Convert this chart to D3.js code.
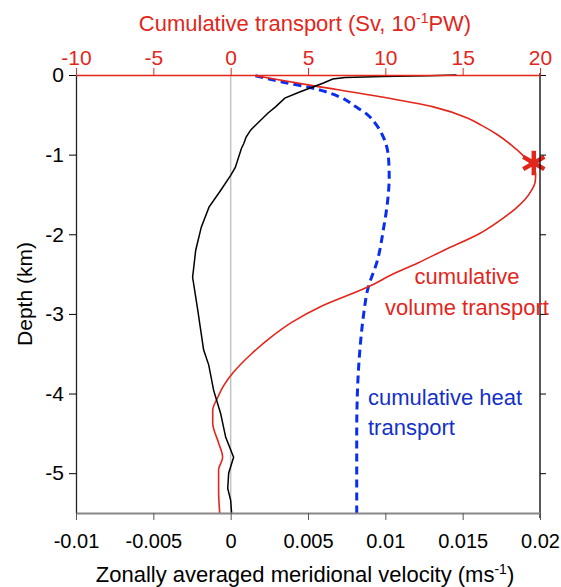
<!DOCTYPE html>
<html>
<head>
<meta charset="utf-8">
<script src="https://cdn.jsdelivr.net/npm/d3@7"></script>
<style>
  body { margin: 0; background: #fff; }
  svg { font-family: "Liberation Sans", Arial, sans-serif; }
</style>
</head>
<body>
<div id="chart"></div>
<script>
// tick values
const depthTicks = [0, -1, -2, -3, -4, -5];
const velTicks = [-0.01, -0.005, 0, 0.005, 0.01, 0.015, 0.02];
const transTicks = [-10, -5, 0, 5, 10, 15, 20];

// velocity profile [depth km, m/s]
const velocity = [
  [0, 0.0146], [-0.008, 0.0128], [-0.018, 0.0098], [-0.03, 0.0074], [-0.05, 0.0066],
  [-0.10, 0.0060], [-0.21, 0.0045], [-0.29, 0.0035], [-0.40, 0.0029], [-0.48, 0.0024],
  [-0.69, 0.0013], [-0.78, 0.0010], [-0.86, 0.00085], [-0.92, 0.0007], [-1.16, 0.0003],
  [-1.26, 0.0], [-1.45, -0.00065], [-1.66, -0.0014], [-1.91, -0.0019], [-2.20, -0.00226],
  [-2.54, -0.00246], [-2.95, -0.00213], [-3.45, -0.00175], [-3.64, -0.00142],
  [-3.96, -0.0011], [-4.25, -0.00065], [-4.55, -0.00032], [-4.80, 0.00019],
  [-5.00, -0.00013], [-5.19, -0.00019], [-5.34, 0.0], [-5.50, 0.00006]
];

// cumulative volume transport [depth km, Sv]
const volume = [
  [-0.01, 1.6], [-0.13, 5.2], [-0.28, 9.9], [-0.40, 13.1], [-0.54, 15.3], [-0.63, 16.2],
  [-0.75, 17.25], [-0.88, 18.15], [-1.00, 18.85], [-1.13, 19.45], [-1.25, 19.72], [-1.35, 19.68],
  [-1.45, 19.45], [-1.57, 19.0], [-1.68, 18.4], [-1.80, 17.6], [-1.99, 16.1], [-2.20, 13.8],
  [-2.36, 12.1], [-2.49, 10.6], [-2.66, 8.9], [-2.91, 5.8], [-3.10, 4.0], [-3.30, 2.55],
  [-3.50, 1.35], [-3.74, 0.15], [-3.90, -0.45], [-4.05, -0.84], [-4.21, -1.16], [-4.37, -1.16],
  [-4.62, -0.78], [-4.80, -0.52], [-4.96, -0.78], [-5.21, -0.78], [-5.50, -0.71]
];

// cumulative heat transport [depth km, 10^-1 PW]
const heat = [
  [-0.01, 1.6], [-0.09, 3.4], [-0.16, 5.2], [-0.28, 7.1], [-0.40, 8.1], [-0.50, 8.86],
  [-0.62, 9.4], [-0.75, 9.8], [-1.03, 10.2], [-1.28, 10.25], [-1.48, 10.2], [-1.66, 10.1],
  [-1.91, 9.9], [-2.32, 9.5], [-2.70, 8.85], [-3.0, 8.6], [-3.35, 8.4], [-3.96, 8.2],
  [-4.5, 8.15], [-5.5, 8.15]
];

// maximum of volume transport
const peak = [-1.105, 19.6];

const red = '#e3261b';
const blue = '#0a2ef0';
const width = 561, height = 587;
const margin = { top: 75, right: 21, bottom: 74, left: 76 };

const svg = d3.select('#chart').append('svg')
  .attr('width', width)
  .attr('height', height);

const x = d3.scaleLinear().domain([-0.01, 0.02]).range([margin.left, width - margin.right]);
const xt = d3.scaleLinear().domain([-10, 20]).range([margin.left, width - margin.right]);
const y = d3.scaleLinear().domain([0, -5.5]).range([margin.top, height - margin.bottom]);

// zero line
svg.append('line')
  .attr('x1', x(0)).attr('x2', x(0))
  .attr('y1', y(0)).attr('y2', y(-5.5))
  .attr('stroke', '#c4c4c4').attr('stroke-width', 1.5);

// heat transport, dashed
svg.append('path')
  .datum(heat)
  .attr('fill', 'none')
  .attr('stroke', blue)
  .attr('stroke-width', 3)
  .attr('stroke-dasharray', '8,5')
  .attr('d', d3.line().x(d => xt(d[1])).y(d => y(d[0])).curve(d3.curveMonotoneY));

// volume transport
svg.append('path')
  .datum(volume)
  .attr('fill', 'none')
  .attr('stroke', red)
  .attr('stroke-width', 1.6)
  .attr('d', d3.line().x(d => xt(d[1])).y(d => y(d[0])).curve(d3.curveMonotoneY));

// velocity
svg.append('path')
  .datum(velocity)
  .attr('fill', 'none')
  .attr('stroke', '#000')
  .attr('stroke-width', 1.5)
  .attr('d', d3.line().x(d => x(d[1])).y(d => y(d[0])));

// star at the peak
svg.append('path')
  .attr('transform', `translate(${xt(peak[1])},${y(peak[0])})`)
  .attr('d', d3.symbol().type(d3.symbolAsterisk).size(420)())
  .attr('fill', 'none')
  .attr('stroke', red)
  .attr('stroke-width', 4.5);

// axes
const fmt = d => String(d);

const leftAxis = svg.append('g')
  .attr('transform', `translate(${margin.left},0)`)
  .call(d3.axisLeft(y).tickValues(depthTicks).tickSize(7).tickSizeOuter(0).tickPadding(5).tickFormat(fmt));
leftAxis.selectAll('text').attr('font-size', 21).attr('fill', '#000').attr('font-family', null);
leftAxis.selectAll('line').attr('stroke', '#000');
leftAxis.select('.domain').attr('stroke', '#222').attr('stroke-width', 1.3);

const rightAxis = svg.append('g')
  .attr('transform', `translate(${width - margin.right},0)`)
  .call(d3.axisRight(y).tickValues(depthTicks).tickSize(6).tickSizeOuter(0).tickFormat(''));
rightAxis.selectAll('line').attr('stroke', '#000');
rightAxis.select('.domain').attr('stroke', '#000').attr('stroke-width', 1.3)
  .attr('d', `M0,${margin.top - 2}V${height - margin.bottom + 5}`);

const bottomAxis = svg.append('g')
  .attr('transform', `translate(0,${height - margin.bottom})`)
  .call(d3.axisBottom(x).tickValues(velTicks).tickSize(7).tickSizeOuter(0).tickPadding(14).tickFormat(fmt));
bottomAxis.selectAll('text').attr('font-size', 20).attr('fill', '#000').attr('font-family', null);
bottomAxis.selectAll('line').attr('stroke', '#555');
bottomAxis.select('.domain').attr('stroke', '#888').attr('stroke-width', 2);

const topAxis = svg.append('g')
  .attr('transform', `translate(0,${margin.top})`)
  .call(d3.axisTop(xt).tickValues(transTicks).tickSize(7).tickSizeOuter(0).tickPadding(3).tickFormat(fmt));
topAxis.selectAll('text').attr('font-size', 21).attr('fill', red).attr('font-family', null);
topAxis.selectAll('line').attr('stroke', red);
topAxis.select('.domain').attr('stroke', red).attr('stroke-width', 1.3);

// titles
const topTitle = svg.append('text')
  .attr('x', 305).attr('y', 31)
  .attr('text-anchor', 'middle')
  .attr('font-size', 22)
  .attr('fill', red);
topTitle.append('tspan').text('Cumulative transport (Sv, 10');
topTitle.append('tspan').attr('font-size', 14).attr('dy', -8).text('-1');
topTitle.append('tspan').attr('dy', 8).text('PW)');

const botTitle = svg.append('text')
  .attr('x', 305).attr('y', 582)
  .attr('text-anchor', 'middle')
  .attr('font-size', 22)
  .attr('fill', '#000');
botTitle.append('tspan').text('Zonally averaged meridional velocity (ms');
botTitle.append('tspan').attr('font-size', 14).attr('dy', -8).text('-1');
botTitle.append('tspan').attr('dy', 8).text(')');

svg.append('text')
  .attr('transform', `translate(32,${(margin.top + height - margin.bottom) / 2}) rotate(-90)`)
  .attr('text-anchor', 'middle')
  .attr('font-size', 21)
  .attr('fill', '#000')
  .text('Depth (km)');

// annotations
const volLabel = svg.append('text')
  .attr('text-anchor', 'middle')
  .attr('font-size', 22)
  .attr('fill', red);
volLabel.append('tspan').attr('x', 467).attr('y', 284).text('cumulative');
volLabel.append('tspan').attr('x', 467).attr('y', 315).text('volume transport');

const heatLabel = svg.append('text')
  .attr('font-size', 22)
  .attr('fill', '#1530c8');
heatLabel.append('tspan').attr('x', 368).attr('y', 405).text('cumulative heat');
heatLabel.append('tspan').attr('x', 368).attr('y', 435).text('transport');
</script>
</body>
</html>
